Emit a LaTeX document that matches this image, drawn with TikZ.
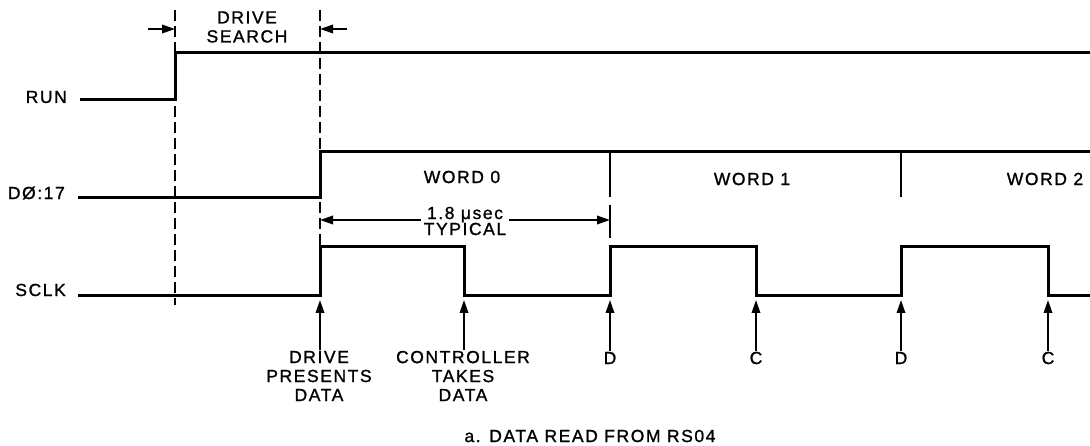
\documentclass[tikz,border=0pt]{standalone}
\usepackage{fontspec}
\setmainfont[LetterSpace=9,FakeBold=1.2]{Liberation Sans}
\usepackage{tikz}
\usetikzlibrary{arrows.meta}
\usetikzlibrary{positioning}

\begin{document}
\begin{tikzpicture}[x=1pt,y=-1pt,
        sig/.style={line width=3pt},
        tick/.style={line width=2.6pt},
        guide/.style={line width=1.3pt,dash pattern=on 11pt off 5pt},
        extline/.style={line width=1.3pt},
        pointer/.style={line width=1.8pt,-{Triangle[length=13pt,width=8.5pt]}},
        lbl/.style={font=\fontsize{17.5}{19}\selectfont,align=center,inner sep=1pt}]
        \useasboundingbox (0,0) rectangle (1090,446);

        % signal names
        \begin{scope}[every node/.style={lbl,anchor=east}]
        \node (run) at (68,97) {RUN};
        \node (dbus) at (66,193) {DØ:17};
        \node (sclk) at (67,290) {SCLK};
        \end{scope}

        % drive search window
        \draw[guide] (175,10) -- (175,305);
        \draw[guide] (320,10) -- (320,245);
        \node[lbl] (search) at (247,27) {DRIVE\\SEARCH};
        \coordinate (sl) at (148,29);
        \coordinate (sl0) at (175,29);
        \coordinate (sr) at (347,29);
        \coordinate (sr0) at (320,29);
        \draw[pointer] (sl) -- (sl0);
        \draw[pointer] (sr) -- (sr0);

        % waveforms
        \draw[sig] (80,100) -- (175,100) -- (175,53) -- (1090,53);
        \draw[sig] (78,198) -- (320,198) -- (320,152) -- (1090,152);
        \draw[sig] (78,296) -- (320,296) -- (320,247) -- (464,247) -- (464,296)
                -- (610,296) -- (610,247) -- (756,247) -- (756,296)
                -- (901,296) -- (901,247) -- (1048,247) -- (1048,296) -- (1090,296);

        % word boundaries
        \draw[tick] (610,152) -- (610,197);
        \draw[tick] (901,152) -- (901,197);
        \node[lbl] (w0) at (462,177) {WORD 0};
        \node[lbl] (w1) at (752,179) {WORD 1};
        \node[lbl] (w2) at (1045,179) {WORD 2};

        % word time
        \draw[extline] (610,205) -- (610,238);
        \node[lbl,inner sep=3pt] (typ) at (465,221) {1.8 μsec\\[-3pt]TYPICAL};
        \coordinate (t0) at (320,220);
        \coordinate (t1) at (610,220);
        \draw[pointer] (typ.west |- t0) -- (t0);
        \draw[pointer] (typ.east |- t1) -- (t1);

        % clock edges
        \foreach \x/\n in {320/a,464/b,610/c,756/d,901/e,1048/f}
                \coordinate (clk\n) at (\x,300);
        \node[lbl] (pres) at (319,376) {DRIVE\\PRESENTS\\DATA};
        \node[lbl] (take) at (463,376) {CONTROLLER\\TAKES\\DATA};
        \node[lbl] (d1) at (610,358) {D};
        \node[lbl] (c1) at (756,358) {C};
        \node[lbl] (d2) at (901,358) {D};
        \node[lbl] (c2) at (1048,358) {C};
        \draw[pointer] (pres.north -| clka) -- (clka);
        \draw[pointer] (take.north -| clkb) -- (clkb);
        \draw[pointer] (d1.north) -- (clkc);
        \draw[pointer] (c1.north) -- (clkd);
        \draw[pointer] (d2.north) -- (clke);
        \draw[pointer] (c2.north) -- (clkf);

        % caption
        \node[lbl] (cap) at (590,436) {a. DATA READ FROM RS04};
\end{tikzpicture}
\end{document}
